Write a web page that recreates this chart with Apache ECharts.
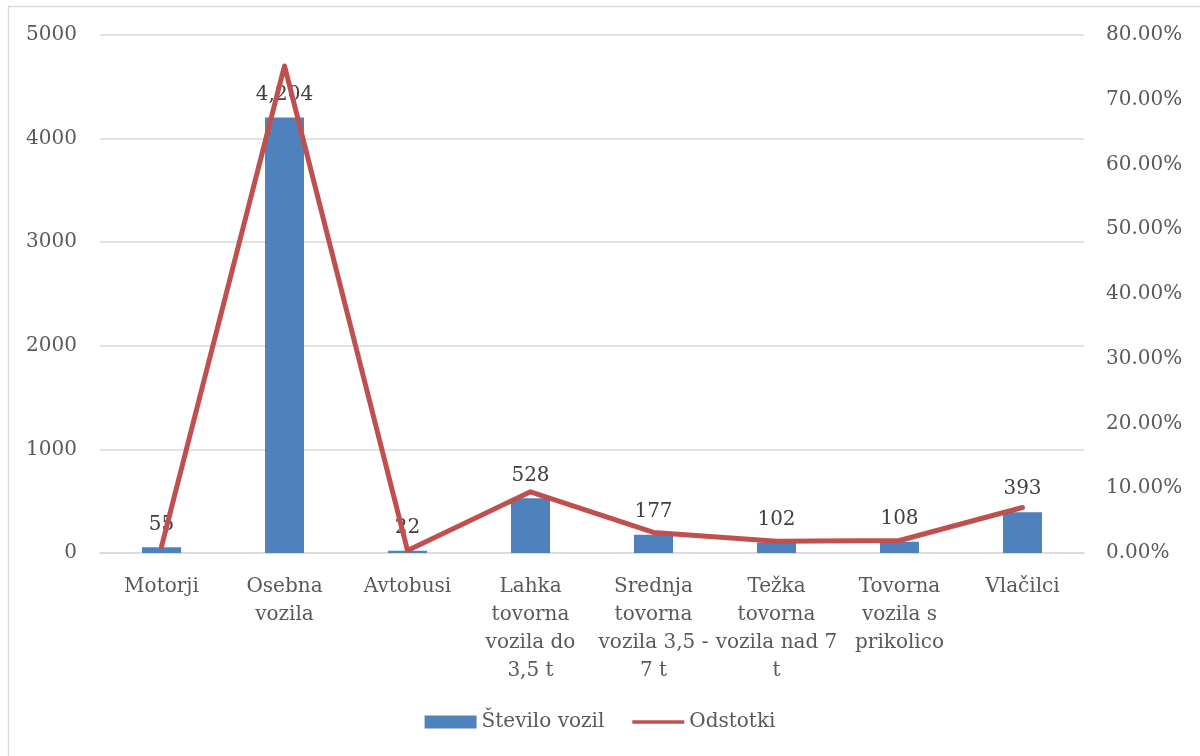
<!DOCTYPE html>
<html>
<head>
<meta charset="utf-8">
<script src="https://cdn.jsdelivr.net/npm/echarts@6/dist/echarts.min.js"></script>
<style>
  html, body { margin: 0; padding: 0; background: #fff; }
  #chart { width: 1200px; height: 756px; }
</style>
</head>
<body>
<div id="chart"></div>
<script>
// Vehicle categories (wrapped for the axis labels)
const categories = [
  'Motorji',
  'Osebna\nvozila',
  'Avtobusi',
  'Lahka\ntovorna\nvozila do\n3,5 t',
  'Srednja\ntovorna\nvozila 3,5 -\n7 t',
  'Težka\ntovorna\nvozila nad 7\nt',
  'Tovorna\nvozila s\nprikolico',
  'Vlačilci'
];
// Number of vehicles per category
const vehicleCounts = [55, 4204, 22, 528, 177, 102, 108, 393];
// Share of all vehicles, in percent
const shares = [0.98, 75.22, 0.39, 9.45, 3.17, 1.83, 1.93, 7.03];

const seriesNames = ['Število vozil', 'Odstotki'];

const FONT = 'DejaVu Serif';
// Legend glyph for the line series: a thick horizontal stroke, vertically centred
const LINE_ICON = 'path://M0,0 M0,4.5 L56,4.5 L56,8.5 L0,8.5 Z M56,13';

const chart = echarts.init(document.getElementById('chart'));

chart.setOption({
  animation: false,
  backgroundColor: '#ffffff',
  textStyle: { fontFamily: FONT },
  graphic: [{
    type: 'rect',
    shape: { x: 8.5, y: 6.5, width: 1200, height: 780 },
    style: { fill: 'none', stroke: '#d9d9d9', lineWidth: 1.5 },
    silent: true
  }],
  grid: { left: 100, right: 116, top: 35, bottom: 203 },
  legend: {
    top: 707,
    left: 'center',
    itemWidth: 52,
    itemHeight: 13,
    itemGap: 28,
    textStyle: { fontFamily: FONT, fontSize: 20, color: '#595959' },
    data: [
      { name: seriesNames[0], icon: 'rect' },
      { name: seriesNames[1], icon: LINE_ICON }
    ]
  },
  xAxis: {
    type: 'category',
    data: categories,
    axisLine: { lineStyle: { color: '#d9d9d9', width: 1.5 } },
    axisTick: { show: false },
    axisLabel: {
      interval: 0,
      margin: 20,
      fontFamily: FONT,
      fontSize: 20,
      lineHeight: 28,
      color: '#595959'
    }
  },
  yAxis: [{
    type: 'value',
    min: 0,
    max: 5000,
    interval: 1000,
    axisLine: { show: false },
    axisTick: { show: false },
    splitLine: { lineStyle: { color: '#d9d9d9', width: 1.5 } },
    axisLabel: {
      margin: 23,
      fontFamily: FONT,
      fontSize: 20,
      color: '#595959',
      formatter: v => String(v)
    }
  }, {
    type: 'value',
    min: 0,
    max: 80,
    interval: 10,
    axisLine: { show: false },
    axisTick: { show: false },
    splitLine: { show: false },
    axisLabel: {
      margin: 22,
      fontFamily: FONT,
      fontSize: 20,
      color: '#595959',
      formatter: v => v.toFixed(2) + '%'
    }
  }],
  series: [{
    name: seriesNames[0],
    type: 'bar',
    data: vehicleCounts,
    barWidth: 39,
    itemStyle: { color: '#4f81bd' },
    z: 2,
    label: {
      show: true,
      position: 'top',
      distance: 13,
      fontFamily: FONT,
      fontSize: 20,
      color: '#404040',
      formatter: p => p.value.toLocaleString('en-US')
    }
  }, {
    name: seriesNames[1],
    type: 'line',
    yAxisIndex: 1,
    data: shares,
    showSymbol: false,
    symbol: 'none',
    z: 5,
    lineStyle: { color: '#c0504d', width: 5, cap: 'round', join: 'round' },
    itemStyle: { color: '#c0504d' }
  }]
});
</script>
</body>
</html>
